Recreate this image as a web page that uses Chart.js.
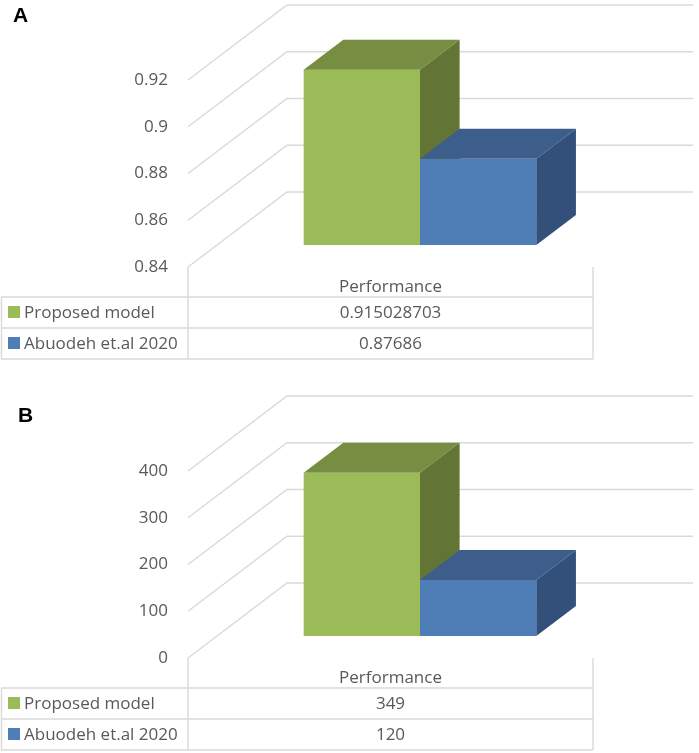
<!DOCTYPE html>
<html>
<head>
<meta charset="utf-8">
<title>Performance comparison</title>
<script src="https://cdn.jsdelivr.net/npm/chart.js@4.4.0/dist/chart.umd.min.js"></script>
<style>
    body { margin: 0; background: #ffffff; }
    canvas { display: block; }
</style>
</head>
<body>
<canvas id="chartA" width="699" height="391"></canvas>
<canvas id="chartB" width="699" height="362"></canvas>
<script>
// Chart data
const categories = ['Performance'];
const seriesNames = ['Proposed model', 'Abuodeh et.al 2020'];

const proposedA = [0.915028703];
const abuodehA = [0.87686];
const ticksA = [0.84, 0.86, 0.88, 0.9, 0.92];

const proposedB = [349];
const abuodehB = [120];
const ticksB = [0, 100, 200, 300, 400];

// Face colours for the 3D boxes: front, top, side
const greenFaces = ['#9bbb59', '#778d42', '#627535'];
const blueFaces = ['#4f7eb6', '#3d5e8a', '#32507a'];

const textColor = '#595959';
const lineColor = '#d9d9d9';
const fontFamily = "'Open Sans', 'Noto Sans', sans-serif";

Chart.defaults.font.family = fontFamily;
Chart.defaults.font.size = 17;
Chart.defaults.color = textColor;

// Depth of the floor in pixels and where the boxes sit in it
const depthX = 99;
const depthY = -75;
const barNear = 0.293;
const barFar = 0.693;

// Back walls, 3D boxes and the data table under the plot
const box3dPlugin = {
    id: 'box3d',
    beforeDatasetsDraw(chart) {
        const ctx = chart.ctx;
        const area = chart.chartArea;
        const yScale = chart.scales.y;

        // Gridlines: diagonal on the left wall, then along the back wall
        ctx.save();
        ctx.strokeStyle = lineColor;
        ctx.lineWidth = 1.4;
        yScale.ticks.forEach(function(tick) {
            const py = yScale.getPixelForValue(tick.value);
            ctx.beginPath();
            ctx.moveTo(area.left, py);
            ctx.lineTo(area.left + depthX, py + depthY);
            ctx.lineTo(area.right + depthX, py + depthY);
            ctx.stroke();
        });
        ctx.restore();

        // Boxes, drawn from the bar elements the library laid out
        const fx = depthX * barNear, fy = depthY * barNear;
        const bx = depthX * barFar, by = depthY * barFar;
        chart.data.datasets.forEach(function(ds, i) {
            const meta = chart.getDatasetMeta(i);
            const faces = ds.faces;
            meta.data.forEach(function(el) {
                const p = el.getProps(['x', 'y', 'base', 'width'], true);
                const l = p.x - p.width / 2;
                const r = p.x + p.width / 2;
                const t = p.y;
                const b = p.base;

                ctx.fillStyle = faces[0];
                ctx.fillRect(l + fx, t + fy, r - l, b - t);

                ctx.fillStyle = faces[1];
                ctx.beginPath();
                ctx.moveTo(l + fx, t + fy);
                ctx.lineTo(l + bx, t + by);
                ctx.lineTo(r + bx, t + by);
                ctx.lineTo(r + fx, t + fy);
                ctx.closePath();
                ctx.fill();

                ctx.fillStyle = faces[2];
                ctx.beginPath();
                ctx.moveTo(r + fx, t + fy);
                ctx.lineTo(r + bx, t + by);
                ctx.lineTo(r + bx, b + by);
                ctx.lineTo(r + fx, b + fy);
                ctx.closePath();
                ctx.fill();
            });
        });

        // skip the default flat bars
        return false;
    },
    afterDraw(chart, args, opts) {
        const ctx = chart.ctx;
        const area = chart.chartArea;
        const top = area.bottom;
        const left = area.left;
        const right = area.right - 1;
        const rows = [top + 30, top + 61, top + 92];
        const midX = (left + right) / 2;

        // Table lines
        ctx.save();
        ctx.strokeStyle = lineColor;
        ctx.lineWidth = 1.4;
        ctx.beginPath();
        ctx.moveTo(left, top);
        ctx.lineTo(left, rows[2]);
        ctx.moveTo(right, top);
        ctx.lineTo(right, rows[2]);
        ctx.moveTo(1.5, rows[0]);
        ctx.lineTo(1.5, rows[2]);
        rows.forEach(function(ry) {
            ctx.moveTo(1, ry);
            ctx.lineTo(right, ry);
        });
        ctx.stroke();

        // Table text
        ctx.fillStyle = textColor;
        ctx.font = '17px ' + fontFamily;
        ctx.textBaseline = 'alphabetic';
        ctx.textAlign = 'center';
        ctx.fillText(chart.data.labels[0], midX, top + 25);

        chart.data.datasets.forEach(function(ds, i) {
            const baseY = rows[i] + 21;
            ctx.fillStyle = ds.faces[0];
            ctx.fillRect(8, baseY - 12, 12, 12);
            ctx.fillStyle = textColor;
            ctx.textAlign = 'left';
            ctx.fillText(ds.label, 24, baseY);
            ctx.textAlign = 'center';
            ctx.fillText(String(ds.data[0]), midX, baseY);
        });

        // Panel letter
        ctx.fillStyle = '#000000';
        ctx.font = "bold 21px 'Liberation Sans', Arial, sans-serif";
        ctx.textAlign = 'left';
        ctx.fillText(opts.letter, opts.letterX, opts.letterY);
        ctx.restore();
    }
};

function makeChart(canvasId, proposed, abuodeh, ticks, letter, letterX, letterY, bottomPad) {
    const ctx = document.getElementById(canvasId).getContext('2d');
    return new Chart(ctx, {
        type: 'bar',
        data: {
            labels: categories,
            datasets: [{
                label: seriesNames[0],
                data: proposed,
                base: ticks[0],
                backgroundColor: greenFaces[0],
                faces: greenFaces
            }, {
                label: seriesNames[1],
                data: abuodeh,
                base: ticks[0],
                backgroundColor: blueFaces[0],
                faces: blueFaces
            }]
        },
        options: {
            responsive: false,
            animation: false,
            events: [],
            categoryPercentage: 0.573,
            barPercentage: 1,
            layout: {
                padding: { top: 80, right: 105, bottom: bottomPad, left: 0 }
            },
            scales: {
                x: {
                    display: false
                },
                y: {
                    min: ticks[0],
                    max: ticks[ticks.length - 1],
                    afterBuildTicks: function(scale) {
                        scale.ticks = ticks.map(function(v) { return { value: v }; });
                    },
                    afterFit: function(scale) {
                        scale.width = 188;
                    },
                    grid: { display: false, drawTicks: false },
                    border: { display: false },
                    ticks: {
                        padding: 20,
                        color: textColor,
                        font: { size: 17 },
                        callback: function(v) { return String(v); }
                    }
                }
            },
            plugins: {
                legend: { display: false },
                tooltip: { enabled: false },
                box3d: { letter: letter, letterX: letterX, letterY: letterY }
            }
        },
        plugins: [box3dPlugin]
    });
}

makeChart('chartA', proposedA, abuodehA, ticksA, 'A', 13, 22, 124);
makeChart('chartB', proposedB, abuodehB, ticksB, 'B', 18, 31, 95);
</script>
</body>
</html>
